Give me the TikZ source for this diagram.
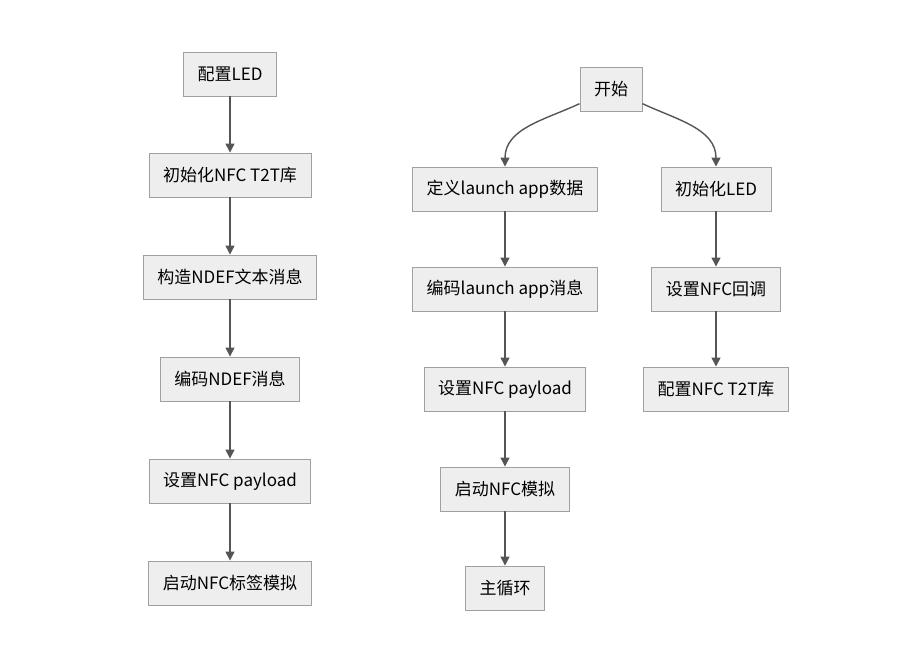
\documentclass[tikz,border=0pt]{standalone}
\usepackage{fontspec}
\setmainfont{Noto Sans CJK SC}
\usetikzlibrary{arrows.meta}
\definecolor{boxfill}{HTML}{EEEEEE}
\definecolor{boxline}{HTML}{A0A0A0}
\definecolor{flowline}{HTML}{555555}
\begin{document}
\begin{tikzpicture}[x=1pt,y=-1pt,
    stepbox/.style={draw=boxline,fill=boxfill,line width=0.9pt,minimum height=44pt,inner xsep=14pt,font=\fontsize{17}{19}\selectfont},
    flow/.style={draw=flowline,line width=1.4pt,-{Triangle[length=9pt,width=9pt]}}]
  \useasboundingbox (0,0) rectangle (907,666);
  % left column
  \node[stepbox] (led) at (230,74) {配置LED};
  \node[stepbox] (init) at (230,175) {初始化NFC T2T库};
  \node[stepbox] (build) at (230,277) {构造NDEF文本消息};
  \node[stepbox] (enc) at (230,379) {编码NDEF消息};
  \node[stepbox] (pay) at (230,481) {设置NFC payload};
  \node[stepbox] (emu) at (230,583) {启动NFC标签模拟};
  \draw[flow] (led) -- (init);
  \draw[flow] (init) -- (build);
  \draw[flow] (build) -- (enc);
  \draw[flow] (enc) -- (pay);
  \draw[flow] (pay) -- (emu);
  % right part
  \node[stepbox] (start) at (611,89) {开始};
  \node[stepbox] (appdata) at (505,189) {定义launch app数据};
  \node[stepbox] (appmsg) at (505,289) {编码launch app消息};
  \node[stepbox] (apppay) at (505,389) {设置NFC payload};
  \node[stepbox] (appemu) at (505,489) {启动NFC模拟};
  \node[stepbox] (loop) at (505,588) {主循环};
  \node[stepbox] (led2) at (716,189) {初始化LED};
  \node[stepbox] (cb) at (716,289) {设置NFC回调};
  \node[stepbox] (t2t) at (716,389) {配置NFC T2T库};
  \draw[flow] (start.205) to[out=205,in=90] (appdata.north);
  \draw[flow] (start.335) to[out=-25,in=90] (led2.north);
  \draw[flow] (appdata) -- (appmsg);
  \draw[flow] (appmsg) -- (apppay);
  \draw[flow] (apppay) -- (appemu);
  \draw[flow] (appemu) -- (loop);
  \draw[flow] (led2) -- (cb);
  \draw[flow] (cb) -- (t2t);
\end{tikzpicture}
\end{document}
